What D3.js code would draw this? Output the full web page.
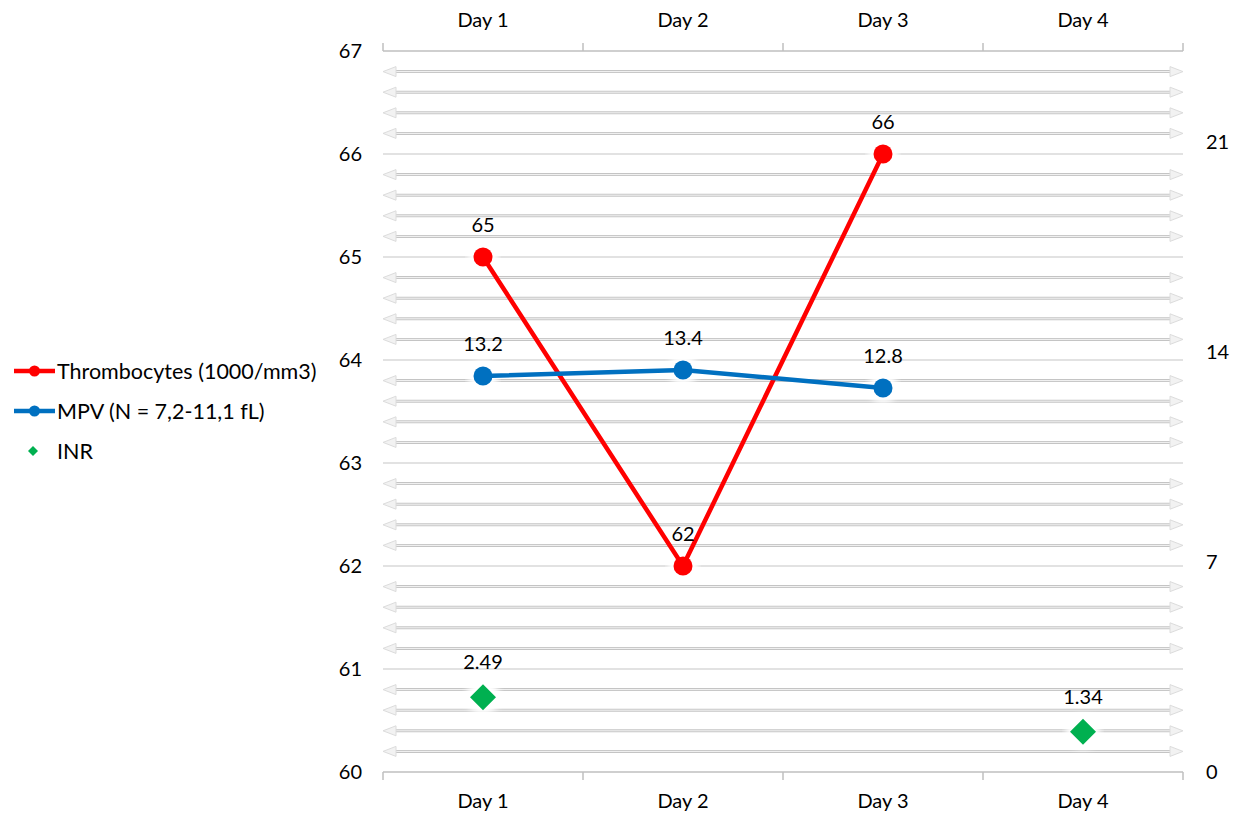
<!DOCTYPE html>
<html>
<meta charset="utf-8">
<style>
body { margin: 0; background: #fff; }
text { font-family: Lato, "Open Sans", sans-serif; fill: #000; }
</style>
<svg id="chart" width="1239" height="817"></svg>
<script src="https://d3js.org/d3.v7.min.js"></script>
<script>

var days = ["Day 1", "Day 2", "Day 3", "Day 4"];
var thrombocytes = [65, 62, 66, null];
var mpv = [13.2, 13.4, 12.8, null];
var inr = [2.49, null, null, 1.34];
var leftTicks = [60, 61, 62, 63, 64, 65, 66, 67];
var rightTicks = [0, 7, 14, 21];

var svg = d3.select("#chart"),
    plotLeft = 383, plotRight = 1183, plotTop = 51, plotBottom = 772;

var x = d3.scaleBand().domain(days).range([plotLeft, plotRight]).padding(0);
var yL = d3.scaleLinear().domain([60, 67]).range([plotBottom, plotTop]);
var yR = d3.scaleLinear().domain([0, 24.03]).range([plotBottom, plotTop]);

var defs = svg.append("defs");
defs.append("filter").attr("id", "glow")
  .append("feGaussianBlur").attr("stdDeviation", 3);

// plain gridlines at whole values
svg.append("g").selectAll("line")
  .data(leftTicks.slice(1, -1))
  .enter().append("line")
    .attr("x1", plotLeft).attr("x2", plotRight)
    .attr("y1", function(d) { return yL(d); })
    .attr("y2", function(d) { return yL(d); })
    .attr("stroke", "#d9d9d9").attr("stroke-width", 1.5);

// double-headed arrow lines between them
var minor = yL.ticks(35).filter(function(d) { return Math.abs(d - Math.round(d)) > 0.01; });
var arrows = svg.append("g").selectAll("g").data(minor).enter().append("g")
  .attr("transform", function(d) { return "translate(0," + yL(d) + ")"; });
arrows.append("line").attr("x1", plotLeft + 10).attr("x2", plotRight - 10)
  .attr("stroke", "#c4c4c4").attr("stroke-width", 3);
arrows.append("line").attr("x1", plotLeft + 10).attr("x2", plotRight - 10)
  .attr("stroke", "#f4f4f4").attr("stroke-width", 1);
arrows.append("path")
  .attr("d", "M" + plotLeft + ",0L" + (plotLeft + 13) + ",-5L" + (plotLeft + 13) + ",5Z")
  .attr("fill", "#f2f2f2").attr("stroke", "#dcdcdc");
arrows.append("path")
  .attr("d", "M" + plotRight + ",0L" + (plotRight - 13) + ",-5L" + (plotRight - 13) + ",5Z")
  .attr("fill", "#f2f2f2").attr("stroke", "#dcdcdc");

// top and bottom category axes
function catAxis(y, dir) {
  var g = svg.append("g");
  g.append("line").attr("x1", plotLeft).attr("x2", plotRight).attr("y1", y).attr("y2", y)
    .attr("stroke", "#bfbfbf").attr("stroke-width", 1.5);
  var edges = days.map(function(d) { return x(d); }).concat([plotRight]);
  g.selectAll("line.tk").data(edges).enter().append("line").attr("class", "tk")
    .attr("x1", function(d) { return d; }).attr("x2", function(d) { return d; })
    .attr("y1", y).attr("y2", y + dir * 8)
    .attr("stroke", "#bfbfbf").attr("stroke-width", 1.5);
  g.selectAll("text").data(days).enter().append("text")
    .attr("x", function(d) { return x(d) + x.bandwidth() / 2; })
    .attr("y", dir < 0 ? 27 : 808)
    .attr("text-anchor", "middle")
    .style("font-size", "20px")
    .text(function(d) { return d; });
}
catAxis(plotTop, -1);
catAxis(plotBottom, 1);

// left and right value labels
svg.append("g").selectAll("text").data(leftTicks).enter().append("text")
  .attr("x", 362).attr("y", function(d) { return yL(d); }).attr("dy", "0.35em")
  .attr("text-anchor", "end").style("font-size", "20px")
  .text(function(d) { return d; });
svg.append("g").selectAll("text").data(rightTicks).enter().append("text")
  .attr("x", 1206).attr("y", function(d) { return yR(d); }).attr("dy", "0.35em")
  .style("font-size", "20px")
  .text(function(d) { return d; });

function cx(i) { return x(days[i]) + x.bandwidth() / 2; }

function drawSeries(vals, y, color) {
  var pts = vals.map(function(v, i) { return {v: v, i: i}; }).filter(function(p) { return p.v != null; });
  var line = d3.line().x(function(p) { return cx(p.i); }).y(function(p) { return y(p.v); });
  var g = svg.append("g");
  g.selectAll("circle.glow").data(pts).enter().append("circle").attr("class", "glow")
    .attr("cx", function(p) { return cx(p.i); }).attr("cy", function(p) { return y(p.v); })
    .attr("r", 15).attr("fill", "#fff").attr("filter", "url(#glow)");
  g.append("path").attr("d", line(pts)).attr("fill", "none")
    .attr("stroke", color).attr("stroke-width", 4.5);
  g.selectAll("circle.dot").data(pts).enter().append("circle").attr("class", "dot")
    .attr("cx", function(p) { return cx(p.i); }).attr("cy", function(p) { return y(p.v); })
    .attr("r", 9.5).attr("fill", color);
  g.selectAll("text").data(pts).enter().append("text")
    .attr("x", function(p) { return cx(p.i); }).attr("y", function(p) { return y(p.v) - 25; })
    .attr("text-anchor", "middle").style("font-size", "20px")
    .text(function(p) { return p.v; });
}
drawSeries(thrombocytes, yL, "#ff0000");
drawSeries(mpv, yR, "#0070c0");

// INR diamonds
var inrPts = inr.map(function(v, i) { return {v: v, i: i}; }).filter(function(p) { return p.v != null; });
var ig = svg.append("g");
ig.selectAll("circle").data(inrPts).enter().append("circle")
  .attr("cx", function(p) { return cx(p.i); }).attr("cy", function(p) { return yR(p.v); })
  .attr("r", 17).attr("fill", "#fff").attr("filter", "url(#glow)");
ig.selectAll("path").data(inrPts).enter().append("path")
  .attr("transform", function(p) { return "translate(" + cx(p.i) + "," + yR(p.v) + ")"; })
  .attr("d", "M0,-13L13,0L0,13L-13,0Z").attr("fill", "#00b050");
ig.selectAll("text").data(inrPts).enter().append("text")
  .attr("x", function(p) { return cx(p.i); }).attr("y", function(p) { return yR(p.v) - 28; })
  .attr("text-anchor", "middle").style("font-size", "20px")
  .text(function(p) { return p.v; });

// legend
var legend = [
  {name: "Thrombocytes (1000/mm3)", color: "#ff0000", type: "line"},
  {name: "MPV (N = 7,2-11,1 fL)", color: "#0070c0", type: "line"},
  {name: "INR", color: "#00b050", type: "diamond"}
];
var lg = svg.append("g").selectAll("g").data(legend).enter().append("g")
  .attr("transform", function(d, i) { return "translate(0," + (371 + i * 40) + ")"; });
lg.filter(function(d) { return d.type == "line"; }).append("line")
  .attr("x1", 14).attr("x2", 55).attr("stroke", function(d) { return d.color; }).attr("stroke-width", 4.5);
lg.filter(function(d) { return d.type == "line"; }).append("circle")
  .attr("cx", 34.5).attr("r", 5.5).attr("fill", function(d) { return d.color; });
lg.filter(function(d) { return d.type == "diamond"; }).append("path")
  .attr("d", "M33,-5L38,0L33,5L28,0Z").attr("fill", function(d) { return d.color; });
lg.append("text").attr("x", 57).attr("dy", "0.35em").style("font-size", "21.5px")
  .text(function(d) { return d.name; });

</script>
</html>
